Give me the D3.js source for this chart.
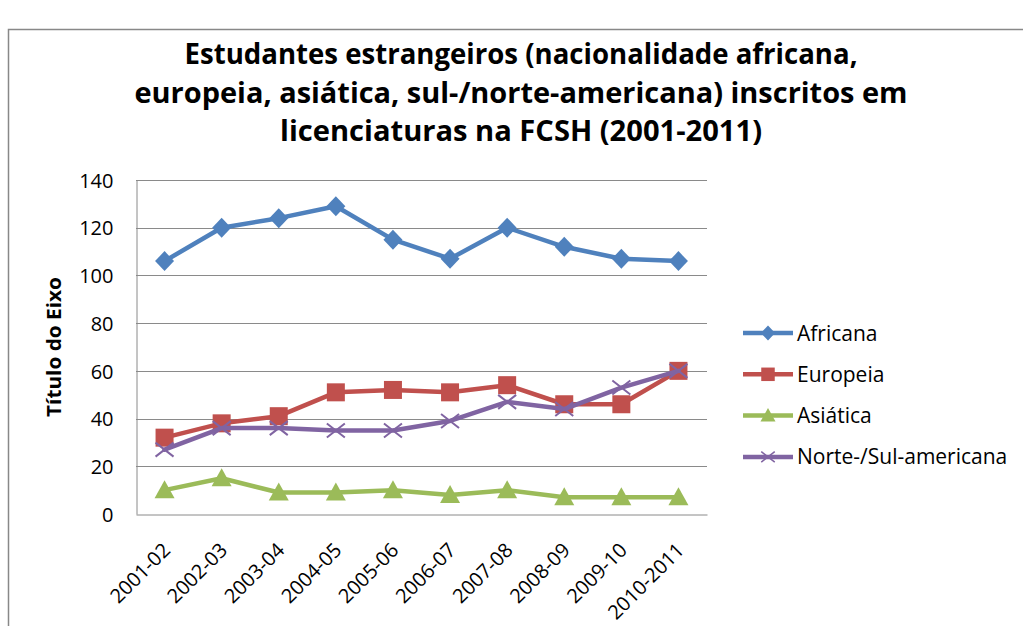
<!DOCTYPE html>
<html lang="pt">
<head>
<meta charset="UTF-8">
<title>Estudantes estrangeiros FCSH</title>
<script src="https://d3js.org/d3.v7.min.js"></script>
<style>
  body { margin: 0; background: #fff; }
  text { font-family: "Open Sans", sans-serif; fill: #000; }
</style>
</head>
<body>
<div id="chart"></div>
<script>
// data
const years = ["2001-02", "2002-03", "2003-04", "2004-05", "2005-06", "2006-07", "2007-08", "2008-09", "2009-10", "2010-2011"];
const africana = [106, 120, 124, 129, 115, 107, 120, 112, 107, 106];
const europeia = [32, 38, 41, 51, 52, 51, 54, 46, 46, 60];
const asiatica = [10, 15, 9, 9, 10, 8, 10, 7, 7, 7];
const norteSul = [27, 36, 36, 35, 35, 39, 47, 44, 53, 60];
const yTicks = [0, 20, 40, 60, 80, 100, 120, 140];
const titleLines = [
  "Estudantes estrangeiros (nacionalidade africana,",
  "europeia, asiática, sul-/norte-americana) inscritos  em",
  "licenciaturas na FCSH (2001-2011)"
];
const titleWidths = [673, 773, 482];

const series = [
  { name: "Africana", values: africana, color: "#4F81BD", marker: "diamond" },
  { name: "Europeia", values: europeia, color: "#C0504D", marker: "square" },
  { name: "Asiática", values: asiatica, color: "#9BBB59", marker: "triangle" },
  { name: "Norte-/Sul-americana", values: norteSul, color: "#8064A2", marker: "x" }
];

const W = 1023, H = 626;
const plot = { left: 136, right: 707, top: 180, bottom: 514 };

const svg = d3.select("#chart").append("svg")
  .attr("width", W).attr("height", H);

// outer chart border
svg.append("rect")
  .attr("x", 8.5).attr("y", 29.5)
  .attr("width", 1030).attr("height", 640)
  .attr("fill", "#fff").attr("stroke", "#888").attr("stroke-width", 1.5);

// title
svg.append("g").selectAll("text")
  .data(titleLines)
  .enter().append("text")
  .attr("x", 521)
  .attr("y", (d, i) => 64 + i * 38.5)
  .attr("text-anchor", "middle")
  .attr("textLength", (d, i) => titleWidths[i])
  .attr("lengthAdjust", "spacingAndGlyphs")
  .style("font-size", "29px")
  .style("font-weight", "bold")
  .text(d => d);

const x = d3.scaleBand().domain(years).range([plot.left, plot.right]);
const y = d3.scaleLinear().domain([0, 140]).range([plot.bottom, plot.top]);

// gridlines
svg.append("g").selectAll("line")
  .data(yTicks.filter(t => t > 0))
  .enter().append("line")
  .attr("x1", plot.left).attr("x2", plot.right)
  .attr("y1", d => Math.round(y(d)) + 0.5).attr("y2", d => Math.round(y(d)) + 0.5)
  .attr("stroke", "#8a8a8a").attr("stroke-width", 1);

// y axis
const yAxis = svg.append("g")
  .attr("transform", `translate(${plot.left + 0.5},0)`)
  .call(d3.axisLeft(y).tickValues(yTicks).tickSize(0).tickPadding(23));
yAxis.select(".domain").attr("stroke", "#8a8a8a");
yAxis.selectAll("text").style("font-size", "20px").attr("dy", "0.36em");

// x axis
const xAxis = svg.append("g")
  .attr("transform", `translate(0,${Math.round(plot.bottom) + 0.5})`)
  .call(d3.axisBottom(x).tickSize(0).tickPadding(0));
xAxis.select(".domain").attr("stroke", "#8a8a8a");
xAxis.selectAll("text")
  .style("font-size", "20px")
  .attr("text-anchor", "end")
  .attr("dy", 0)
  .attr("y", 0)
  .attr("transform", "translate(7,37) rotate(-45)");

// y axis title
svg.append("text")
  .attr("transform", `translate(61,${(plot.top + plot.bottom) / 2}) rotate(-90)`)
  .attr("text-anchor", "middle")
  .attr("textLength", 140)
  .attr("lengthAdjust", "spacingAndGlyphs")
  .style("font-size", "20px")
  .style("font-weight", "bold")
  .text("Título do Eixo");

const line = d3.line()
  .x((d, i) => x(years[i]) + x.bandwidth() / 2)
  .y(d => y(d));

function drawMarker(g, type, color) {
  if (type === "diamond") {
    g.append("path").attr("d", "M0,-10L9.5,0L0,10L-9.5,0Z").attr("fill", color);
  } else if (type === "square") {
    g.append("rect").attr("x", -9).attr("y", -9).attr("width", 18).attr("height", 18).attr("fill", color);
  } else if (type === "triangle") {
    g.append("path").attr("d", "M0,-10L10,8L-10,8Z").attr("fill", color);
  } else {
    g.append("path").attr("d", "M-9,-7L9,7M-9,7L9,-7")
      .attr("stroke", color).attr("stroke-width", 2).attr("fill", "none");
  }
}

series.forEach(s => {
  svg.append("path")
    .datum(s.values)
    .attr("d", line)
    .attr("fill", "none")
    .attr("stroke", s.color)
    .attr("stroke-width", 4.5)
    .attr("stroke-linejoin", "round")
    .attr("stroke-linecap", "round");
  svg.append("g").selectAll("g")
    .data(s.values)
    .enter().append("g")
    .attr("transform", (d, i) => `translate(${x(years[i]) + x.bandwidth() / 2},${y(d)})`)
    .each(function () { drawMarker(d3.select(this), s.marker, s.color); });
});

// legend
const legend = svg.append("g").selectAll("g")
  .data(series)
  .enter().append("g")
  .attr("transform", (d, i) => `translate(743,${333 + i * 41.3})`);
legend.append("line")
  .attr("x1", 0).attr("x2", 50)
  .attr("stroke", d => d.color).attr("stroke-width", 4.5);
legend.append("g")
  .attr("transform", "translate(25,0) scale(0.75)")
  .each(function (d) { drawMarker(d3.select(this), d.marker, d.color); });
legend.append("text")
  .attr("x", 54).attr("dy", "0.36em")
  .style("font-size", "21px")
  .text(d => d.name);
</script>
</body>
</html>
